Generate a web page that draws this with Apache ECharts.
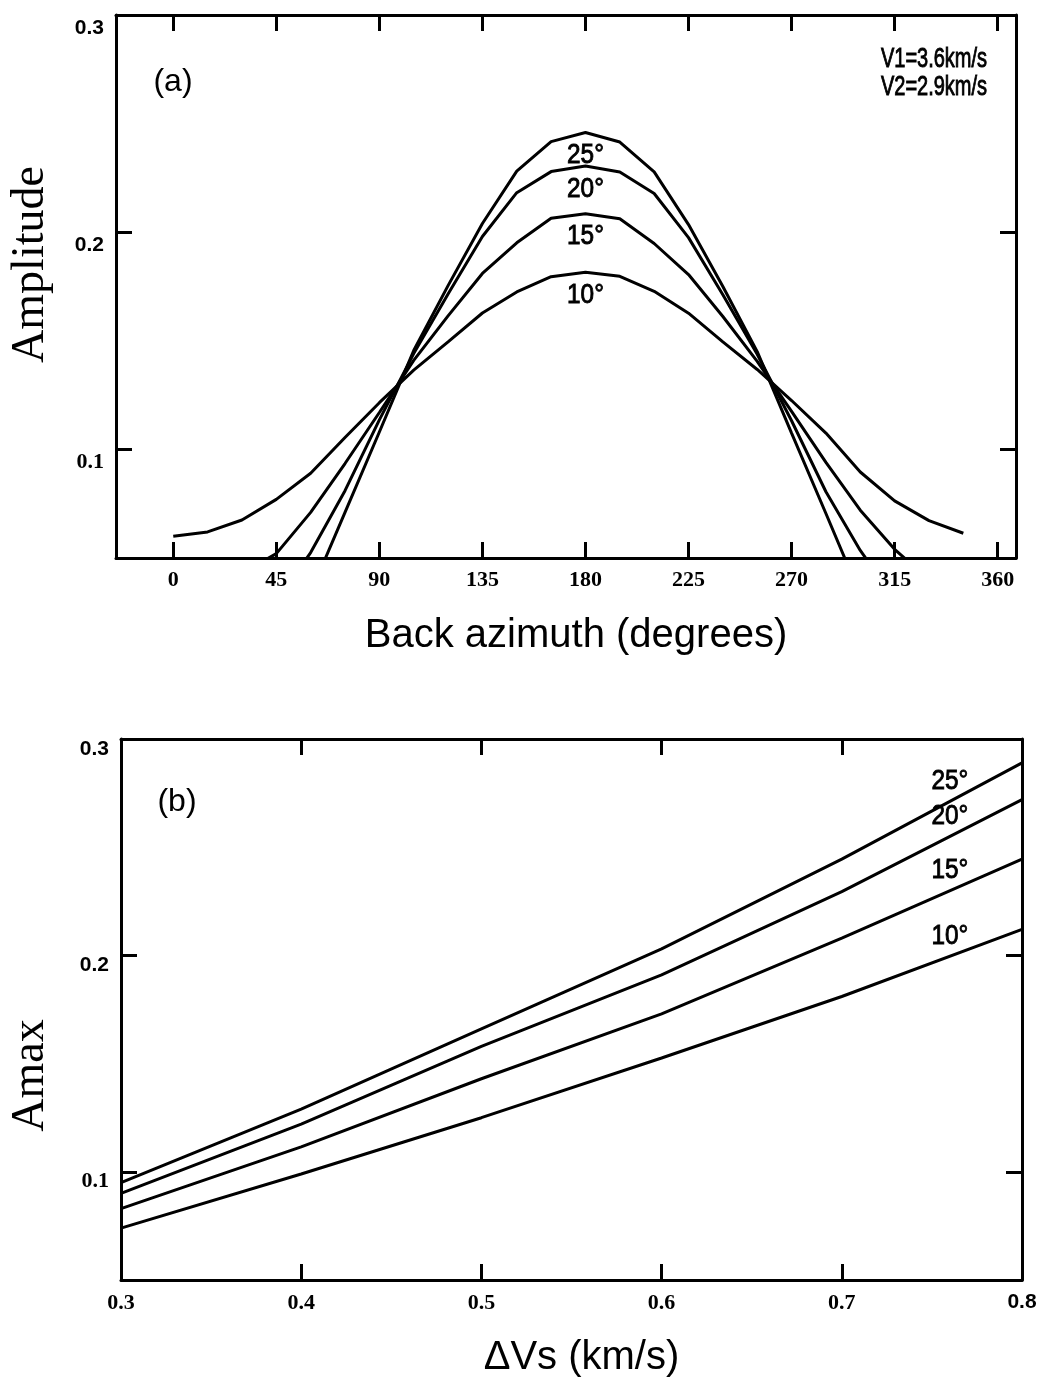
<!DOCTYPE html>
<html>
<head>
<meta charset="utf-8">
<script src="https://cdn.jsdelivr.net/npm/echarts@6/dist/echarts.min.js"></script>
<style>
  html, body { margin: 0; padding: 0; background: #ffffff; }
  #chart { width: 1042px; height: 1382px; }
</style>
</head>
<body>
<div id="chart"></div>
<script>
// ---- Panel (a): amplitude against back azimuth, one curve per dip angle ----
const azimuth = [0, 15, 30, 45, 60, 75, 90, 105, 120, 135, 150, 165,
                 180, 195, 210, 225, 240, 255, 270, 285, 300, 315, 330, 345];
const amp10 = [0.060, 0.062, 0.0675, 0.077, 0.089, 0.1055, 0.1215, 0.1365, 0.1495, 0.1628, 0.1725, 0.1795,
               0.1816, 0.1797, 0.1728, 0.1627, 0.1495, 0.1368, 0.1225, 0.1075, 0.0896, 0.0763, 0.0672, 0.0614];
const amp15 = [null, null, 0.043, 0.052, 0.071, 0.0935, 0.117, 0.141, 0.1615, 0.181, 0.1951, 0.2064,
               0.2085, 0.2062, 0.1948, 0.1805, 0.1612, 0.1405, 0.1175, 0.094, 0.072, 0.054, 0.040, null];
const amp20 = [null, null, null, 0.030, 0.0525, 0.081, 0.1136, 0.1441, 0.1715, 0.198, 0.2182, 0.2279,
               0.2305, 0.2277, 0.2178, 0.1975, 0.1712, 0.1438, 0.1132, 0.0805, 0.0535, 0.031, null, null];
const amp25 = [null, null, null, null, 0.034, 0.071, 0.108, 0.1455, 0.1754, 0.204, 0.2281, 0.2417,
               0.2459, 0.2415, 0.2278, 0.2035, 0.1750, 0.1450, 0.1075, 0.0705, 0.033, null, null, null];
const azimuthTicks = [0, 45, 90, 135, 180, 225, 270, 315, 360];

// ---- Panel (b): peak amplitude against velocity contrast ----
const deltaVs = [0.3, 0.4, 0.5, 0.6, 0.7, 0.8];
const amax10 = [0.074, 0.099, 0.125, 0.1526, 0.181, 0.212];
const amax15 = [0.083, 0.1115, 0.143, 0.173, 0.208, 0.2445];
const amax20 = [0.090, 0.122, 0.158, 0.191, 0.2295, 0.272];
const amax25 = [0.095, 0.129, 0.166, 0.203, 0.2445, 0.289];
const dvsTicks = [0.3, 0.4, 0.5, 0.6, 0.7, 0.8];

const amplitudeTicks = [0.1, 0.2, 0.3];
const dipLabels = ['10°', '15°', '20°', '25°'];

const INK = '#000000';
const SERIF = '"Liberation Serif", "Times New Roman", serif';
const SANS = '"Liberation Sans", Arial, Helvetica, sans-serif';

const pairs = (xs, ys) => xs.map((x, i) => [x, ys[i]]);

// tick labels: some printed in a bold sans, the rest in a bold serif
const sansLabels = { '0.3': true, '0.2': true };
const tickRich = {
  t: { fontFamily: SERIF, fontWeight: 'bold', fontSize: 22, color: INK },
  s: { fontFamily: SANS, fontWeight: 'bold', fontSize: 21, color: INK }
};
function yLabel(v) {
  const s = String(+v.toFixed(2));
  return sansLabels[s] ? '{s|' + s + '}' : '{t|' + s + '}';
}
function xLabelB(v) {
  const s = String(+v.toFixed(2));
  return s === '0.8' ? '{s|' + s + '}' : '{t|' + s + '}';
}

const frameLine = { show: true, onZero: false, lineStyle: { color: INK, width: 3 } };
function ticks(values) {
  return { show: true, inside: true, length: 16, customValues: values,
           lineStyle: { color: INK, width: 3 } };
}

function curve(name, data, xi) {
  return {
    type: 'line', name, data, xAxisIndex: xi, yAxisIndex: xi,
    showSymbol: false, symbol: 'none', clip: true, connectNulls: false,
    lineStyle: { color: INK, width: 3 }, z: 3, silent: true, animation: false
  };
}

const option = {
  backgroundColor: '#ffffff',
  animation: false,
  grid: [
    { left: 115, top: 15, width: 901, height: 543 },
    { left: 120, top: 739, width: 902, height: 541 }
  ],
  xAxis: [
    {
      gridIndex: 0, type: 'value', min: -25, max: 368, position: 'bottom',
      axisLine: frameLine, axisTick: ticks(azimuthTicks), splitLine: { show: false },
      axisLabel: { customValues: azimuthTicks, margin: 11, color: INK,
                   fontFamily: SERIF, fontWeight: 'bold', fontSize: 22 },
      name: 'Back azimuth (degrees)', nameLocation: 'middle', nameGap: 58,
      nameTextStyle: { fontFamily: SANS, fontSize: 40, color: INK, padding: [0, 0, 0, 20] }
    },
    {
      gridIndex: 0, type: 'value', min: -25, max: 368, position: 'top',
      axisLine: frameLine, axisTick: ticks(azimuthTicks), splitLine: { show: false },
      axisLabel: { show: false }
    },
    {
      gridIndex: 1, type: 'value', min: 0.3, max: 0.8, position: 'bottom',
      axisLine: frameLine, axisTick: ticks(dvsTicks), splitLine: { show: false },
      axisLabel: { customValues: dvsTicks, margin: 12, formatter: xLabelB, rich: tickRich },
      name: 'ΔVs (km/s)', nameLocation: 'middle', nameGap: 58,
      nameTextStyle: { fontFamily: SANS, fontSize: 40, color: INK, padding: [0, 0, 0, 20] }
    },
    {
      gridIndex: 1, type: 'value', min: 0.3, max: 0.8, position: 'top',
      axisLine: frameLine, axisTick: ticks(dvsTicks), splitLine: { show: false },
      axisLabel: { show: false }
    }
  ],
  yAxis: [
    {
      gridIndex: 0, type: 'value', min: 0.05, max: 0.3, position: 'left',
      axisLine: frameLine, axisTick: ticks(amplitudeTicks), splitLine: { show: false },
      axisLabel: { customValues: amplitudeTicks, margin: 12, formatter: yLabel, rich: tickRich,
                   padding: [26, 0, 0, 0] },
      name: 'Amplitude', nameLocation: 'middle', nameGap: 62,
      nameTextStyle: { fontFamily: SERIF, fontSize: 46, color: INK, padding: [0, 0, 0, 44] }
    },
    {
      gridIndex: 0, type: 'value', min: 0.05, max: 0.3, position: 'right',
      axisLine: frameLine, axisTick: ticks([0.1, 0.2]), splitLine: { show: false },
      axisLabel: { show: false }
    },
    {
      gridIndex: 1, type: 'value', min: 0.05, max: 0.3, position: 'left',
      axisLine: frameLine, axisTick: ticks(amplitudeTicks), splitLine: { show: false },
      axisLabel: { customValues: amplitudeTicks, margin: 12, formatter: yLabel, rich: tickRich,
                   padding: [20, 0, 0, 0] },
      name: 'Amax', nameLocation: 'middle', nameGap: 67,
      nameTextStyle: { fontFamily: SERIF, fontSize: 46, color: INK, padding: [0, 132, 0, 0] }
    },
    {
      gridIndex: 1, type: 'value', min: 0.05, max: 0.3, position: 'right',
      axisLine: frameLine, axisTick: ticks([0.1, 0.2]), splitLine: { show: false },
      axisLabel: { show: false }
    }
  ],
  series: [
    curve('10°', pairs(azimuth, amp10), 0),
    curve('15°', pairs(azimuth, amp15), 0),
    curve('20°', pairs(azimuth, amp20), 0),
    curve('25°', pairs(azimuth, amp25), 0),
    curve('10°', pairs(deltaVs, amax10), 2),
    curve('15°', pairs(deltaVs, amax15), 2),
    curve('20°', pairs(deltaVs, amax20), 2),
    curve('25°', pairs(deltaVs, amax25), 2)
  ]
};

const chart = echarts.init(document.getElementById('chart'), null, { renderer: 'canvas' });
chart.setOption(option);

// condensed sans text, centred on (x, y), with a thin outline to keep the stems dark
function narrowText(text, x, y, size, squeeze) {
  return {
    type: 'text', x, y, scaleX: squeeze, scaleY: 1, silent: true, z: 10,
    style: { text, x: 0, y: 0, fill: INK, stroke: INK, lineWidth: 0.9,
             font: size + 'px ' + SANS, align: 'center', verticalAlign: 'middle' }
  };
}

// dip labels in (a) sit just under each curve's peak
const peakIdx = azimuth.indexOf(180);
const peakText = [amp10, amp15, amp20, amp25].map((arr, i) => {
  const p = chart.convertToPixel({ xAxisIndex: 0, yAxisIndex: 0 }, [180, arr[peakIdx]]);
  return narrowText(dipLabels[i], p[0], p[1] + 23, 28, 0.87);
});

// dip labels in (b) sit just above each line, three fifths of the way from 0.7 to 0.8
const endText = [amax10, amax15, amax20, amax25].map((arr, i) => {
  const v = arr[4] + 0.6 * (arr[5] - arr[4]);
  const p = chart.convertToPixel({ xAxisIndex: 2, yAxisIndex: 2 }, [0.76, v]);
  return narrowText(dipLabels[i], p[0], p[1] - 20, 28, 0.87);
});

chart.setOption({
  graphic: [
    { type: 'text', x: 173, y: 82, silent: true,
      style: { text: '(a)', fill: INK, font: '32px ' + SANS, align: 'center', verticalAlign: 'middle' } },
    { type: 'text', x: 177, y: 802, silent: true,
      style: { text: '(b)', fill: INK, font: '32px ' + SANS, align: 'center', verticalAlign: 'middle' } },
    narrowText('V1=3.6km/s', 934, 60, 27, 0.74),
    narrowText('V2=2.9km/s', 934, 88, 27, 0.74)
  ].concat(peakText, endText)
});
</script>
</body>
</html>
